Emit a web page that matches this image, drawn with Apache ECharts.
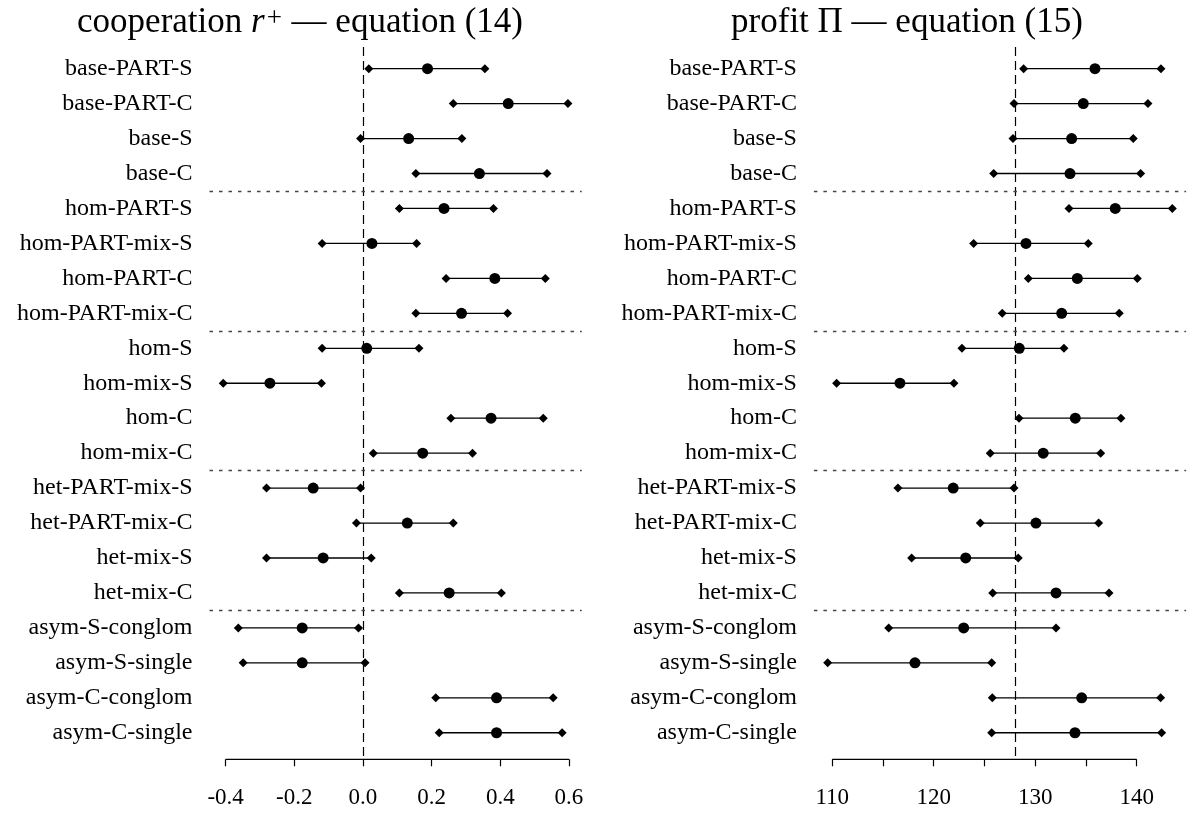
<!DOCTYPE html>
<html>
<head>
<meta charset="utf-8">
<script src="https://cdn.jsdelivr.net/npm/echarts@6/dist/echarts.min.js"></script>
<style>
  html, body { margin: 0; padding: 0; background: #fff; }
  #forest { width: 1188px; height: 814px; }
</style>
</head>
<body>
<div id="forest"></div>
<script>
// row names, top to bottom
var rows = [
  'base-PART-S', 'base-PART-C', 'base-S', 'base-C',
  'hom-PART-S', 'hom-PART-mix-S', 'hom-PART-C', 'hom-PART-mix-C',
  'hom-S', 'hom-mix-S', 'hom-C', 'hom-mix-C',
  'het-PART-mix-S', 'het-PART-mix-C', 'het-mix-S', 'het-mix-C',
  'asym-S-conglom', 'asym-S-single', 'asym-C-conglom', 'asym-C-single'
];

// cooperation r+ (equation 14): lower, estimate, upper
var coopLo = [0.017, 0.263, -0.007, 0.154, 0.106, -0.119, 0.242, 0.154,
  -0.119, -0.407, 0.256, 0.030, -0.281, -0.019, -0.281, 0.106,
  -0.363, -0.349, 0.212, 0.222];
var coopMid = [0.188, 0.423, 0.133, 0.339, 0.236, 0.026, 0.384, 0.287,
  0.011, -0.271, 0.373, 0.174, -0.145, 0.129, -0.116, 0.251,
  -0.177, -0.177, 0.389, 0.389];
var coopHi = [0.355, 0.597, 0.288, 0.536, 0.380, 0.156, 0.531, 0.421,
  0.163, -0.121, 0.525, 0.319, -0.007, 0.263, 0.024, 0.403,
  -0.013, 0.006, 0.554, 0.580];

// profit Pi (equation 15)
var profitLo = [128.86, 127.91, 127.81, 125.91, 133.33, 123.93, 129.32, 126.75,
  122.78, 110.43, 128.40, 125.57, 116.47, 124.59, 117.82, 125.81,
  115.56, 109.55, 125.77, 125.71];
var profitMid = [135.89, 134.74, 133.59, 133.43, 137.89, 129.09, 134.15, 132.61,
  128.43, 116.67, 133.95, 130.79, 121.92, 130.07, 123.15, 132.05,
  122.95, 118.15, 134.58, 133.92];
var profitHi = [142.39, 141.11, 139.66, 140.39, 143.51, 135.23, 140.06, 138.28,
  132.83, 121.99, 138.45, 136.45, 127.91, 136.25, 128.33, 137.27,
  132.05, 125.71, 142.36, 142.46];

var coopTicks = [-0.4, -0.2, 0.0, 0.2, 0.4, 0.6];
var profitTicks = [110, 115, 120, 125, 130, 135, 140];
var profitLabels = [110, 120, 130, 140];
var groupBreaks = [3.5, 7.5, 11.5, 15.5];
var coopRef = 0;
var profitRef = 128;

var FONT = 'Liberation Serif';
var yTop = -0.62, yBottom = 19.76;
var rowIdx = rows.map(function (_, i) { return i; });

function xAxisFor(grid, min, max, ticks, labels, fmt) {
  return {
    type: 'value', gridIndex: grid, min: min, max: max, position: 'bottom',
    axisLine: { show: false, onZero: false },
    splitLine: { show: false },
    axisTick: { show: true, customValues: ticks, length: 7,
      lineStyle: { color: '#000', width: 1.2 } },
    axisLabel: { customValues: labels, formatter: fmt, margin: 27,
      color: '#000', fontFamily: FONT, fontSize: 23 }
  };
}

function yAxisFor(grid) {
  return {
    type: 'value', gridIndex: grid, inverse: true, min: yTop, max: yBottom,
    axisLine: { show: false }, axisTick: { show: false }, splitLine: { show: false },
    axisLabel: { customValues: rowIdx, formatter: function (v) { return rows[v]; },
      margin: 17, color: '#000', fontFamily: FONT, fontSize: 24 }
  };
}

function panelSeries(k, lo, mid, hi, ref, tickFirst, tickLast) {
  return [
    {
      type: 'custom', xAxisIndex: k, yAxisIndex: k, clip: false, z: 2,
      data: rows.map(function (_, i) { return [lo[i], hi[i], i]; }),
      encode: { x: [0, 1], y: 2 },
      renderItem: function (params, api) {
        var a = api.coord([api.value(0), api.value(2)]);
        var b = api.coord([api.value(1), api.value(2)]);
        return { type: 'line', shape: { x1: a[0], y1: a[1], x2: b[0], y2: b[1] },
          style: { stroke: '#000', lineWidth: 1.3 } };
      }
    },
    {
      type: 'scatter', xAxisIndex: k, yAxisIndex: k, z: 3,
      symbol: 'diamond', symbolSize: [9, 9],
      itemStyle: { color: '#000', opacity: 1 },
      data: rows.map(function (_, i) { return [lo[i], i]; })
        .concat(rows.map(function (_, i) { return [hi[i], i]; }))
    },
    {
      type: 'scatter', xAxisIndex: k, yAxisIndex: k, z: 4,
      symbol: 'circle', symbolSize: 11,
      itemStyle: { color: '#000', opacity: 1 },
      data: rows.map(function (_, i) { return [mid[i], i]; }),
      markLine: {
        silent: true, symbol: ['none', 'none'], label: { show: false },
        data: [
          { xAxis: ref, lineStyle: { type: [9, 5], color: '#000', width: 1.2 } }
        ].concat(groupBreaks.map(function (b) {
          return { yAxis: b, lineStyle: { type: [3.5, 6], color: '#444', width: 1.3 } };
        }))
      }
    },
    {
      // axis line spans first to last tick only
      type: 'line', xAxisIndex: k, yAxisIndex: k, clip: false, silent: true,
      showSymbol: false, symbol: 'none',
      lineStyle: { color: '#000', width: 1.2 },
      data: [[tickFirst, yBottom], [tickLast, yBottom]]
    }
  ];
}

var chart = echarts.init(document.getElementById('forest'));
var option = {
  animation: false,
  backgroundColor: '#fff',
  title: [
    {
      text: '{a|cooperation }{r|r}{s|+}{a| — equation (14)}',
      left: 295, top: 0, textAlign: 'center',
      textStyle: { fontWeight: 'normal', rich: {
        a: { fontFamily: FONT, fontSize: 35, fontWeight: 'normal', color: '#000' },
        r: { fontFamily: FONT, fontSize: 35, fontWeight: 'normal', fontStyle: 'italic', color: '#000' },
        s: { fontFamily: FONT, fontSize: 27, fontWeight: 'normal', color: '#000',
          verticalAlign: 'top', lineHeight: 20, padding: [0, 1, 0, 2] }
      } }
    },
    {
      text: 'profit Π — equation (15)',
      left: 902, top: 0, textAlign: 'center',
      textStyle: { fontFamily: FONT, fontSize: 35, fontWeight: 'normal', color: '#000' }
    }
  ],
  grid: [
    { left: 209.5, top: 47, width: 372.2, height: 712.3 },
    { left: 813.9, top: 47, width: 372.2, height: 712.3 }
  ],
  xAxis: [
    xAxisFor(0, -0.447, 0.637, coopTicks, coopTicks, function (v) { return v.toFixed(1); }),
    xAxisFor(1, 108.19, 144.87, profitTicks, profitLabels, function (v) { return String(v); })
  ],
  yAxis: [yAxisFor(0), yAxisFor(1)],
  series: panelSeries(0, coopLo, coopMid, coopHi, coopRef, -0.4, 0.6)
    .concat(panelSeries(1, profitLo, profitMid, profitHi, profitRef, 110, 140))
};
chart.setOption(option);
</script>
</body>
</html>
